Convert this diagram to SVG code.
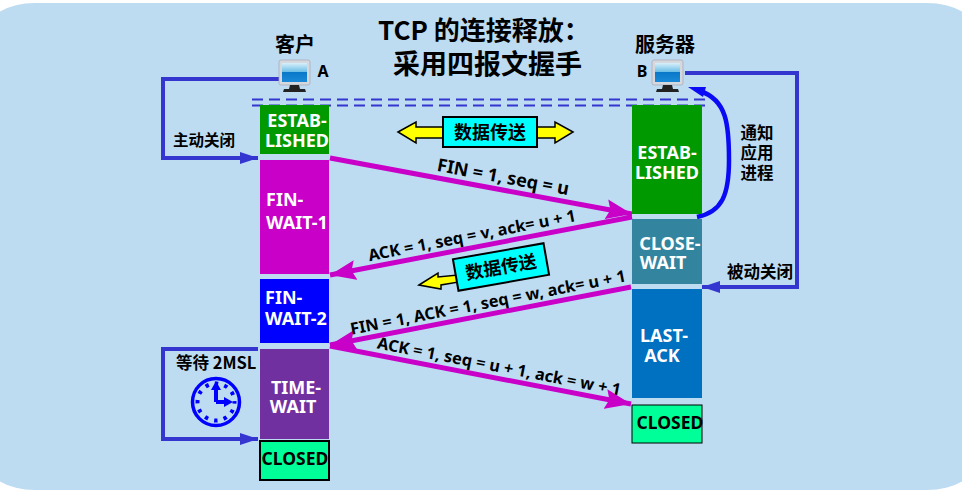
<svg xmlns="http://www.w3.org/2000/svg" width="962" height="492" viewBox="0 0 962 492">
<style>
text{font-family:"Noto Sans","Noto Sans CJK SC",sans-serif;font-weight:700;fill:#000}
.cjk{font-family:"Noto Sans CJK SC",sans-serif;font-weight:700}
.w{fill:#fff;font-size:18px;text-anchor:middle}
.lab{font-size:16.300px;text-anchor:middle}
.mag{stroke:#c800c8;stroke-width:5;fill:none}
.blue{stroke:#3535d0;stroke-width:4;fill:none}
.dash{stroke:#3535d0;stroke-width:2.2;stroke-dasharray:11 6;fill:none}
.ar{fill:#ff0;stroke:#000;stroke-width:1.500}
</style>
<defs>
<linearGradient id="scr" x1="0" y1="0" x2="0" y2="1"><stop offset="0" stop-color="#d8f0fa"/><stop offset=".45" stop-color="#70c0e8"/><stop offset=".5" stop-color="#0a78c8"/><stop offset="1" stop-color="#1a8ad8"/></linearGradient>
<marker id="mh" markerUnits="userSpaceOnUse" markerWidth="26" markerHeight="20" refX="26" refY="10" orient="auto"><path d="M0 0L26 10L0 20L4 10Z" fill="#c800c8"/></marker>
<marker id="bh" markerUnits="userSpaceOnUse" markerWidth="18" markerHeight="12" refX="18" refY="6" orient="auto"><path d="M0 0L18 6L0 12Z" fill="#3535d0"/></marker>
<g id="pc"><rect x="0" y="0" width="31" height="25" rx="2" fill="#d5d8dc" stroke="#aab" stroke-width=".8"/><rect x="3" y="3" width="25" height="19" fill="url(#scr)"/><path d="M11 25h9l1 4h5l1 3H4l1-3h5z" fill="#222"/></g>
</defs>
<rect width="962" height="492" fill="#fff"/>
<rect x="-15" y="3" width="992" height="487" rx="50" ry="30" fill="#bddcf2"/>
<g id="title"><text class="cjk" x="378" y="40" font-size="26">TCP 的连接释放：</text><text class="cjk" x="393" y="74" font-size="27">采用四报文握手</text></g>
<g id="connectors">
<path class="dash" d="M252 99.500H708M252 105.500H708"/>
<path class="blue" d="M279 79H163V158H258" marker-end="url(#bh)"/>
<path class="blue" d="M685 73H797V287H702" marker-end="url(#bh)"/>
<path d="M697 217C722 212 729 195 729 160C729 125 727 100 700 91" fill="none" stroke="#0a0af5" stroke-width="4.500"/>
<path d="M688 87L706 87L703 97Z" fill="#0a0af5"/>
<path class="blue" d="M258 349H163V439H258" marker-end="url(#bh)"/>
<path class="mag" d="M330 158L632 214" marker-end="url(#mh)"/>
<path class="mag" d="M632 217L330 275" marker-end="url(#mh)"/>
<path class="mag" d="M631 287L330 345" marker-end="url(#mh)"/>
<path class="mag" d="M330 346L631 404" marker-end="url(#mh)"/>
</g>
<g id="a-established"><rect x="260" y="105" width="69" height="49" fill="#009900"/><text class="w" x="297" y="127">ESTAB-</text><text class="w" x="297" y="147">LISHED</text></g>
<g id="a-finwait1"><rect x="260" y="160" width="69" height="114" fill="#c800c8"/><text class="w" x="266" y="206" style="text-anchor:start">FIN-</text><text class="w" x="266" y="229" style="text-anchor:start">WAIT-1</text></g>
<g id="a-finwait2"><rect x="260" y="279" width="69" height="64" fill="#0000ff"/><text class="w" x="265" y="304" style="text-anchor:start">FIN-</text><text class="w" x="265" y="325" style="text-anchor:start">WAIT-2</text></g>
<g id="a-timewait"><rect x="260" y="349" width="69" height="90" fill="#7030a0"/><text class="w" x="296" y="394">TIME-</text><text class="w" x="293" y="413">WAIT</text></g>
<g id="a-closed"><rect x="260" y="441" width="69" height="39" fill="#00ff99" stroke="#000" stroke-width="2"/><text x="295" y="465" font-size="17.500" text-anchor="middle">CLOSED</text></g>
<g id="b-established"><rect x="632" y="105" width="70" height="109" fill="#009900"/><text class="w" x="667" y="159">ESTAB-</text><text class="w" x="667" y="179">LISHED</text></g>
<g id="b-closewait"><rect x="632" y="219" width="70" height="65" fill="#33849f"/><text class="w" x="670" y="250">CLOSE-</text><text class="w" x="663" y="269">WAIT</text></g>
<g id="b-lastack"><rect x="632" y="289" width="70" height="109" fill="#0070c0"/><text class="w" x="664" y="342">LAST-</text><text class="w" x="662" y="362">ACK</text></g>
<g id="b-closed"><rect x="632" y="405" width="70" height="38" fill="#00ff99" stroke="#000" stroke-width="1"/><text x="670" y="429" font-size="17.500" text-anchor="middle">CLOSED</text></g>
<g id="client"><text class="cjk" x="295" y="52" font-size="20" text-anchor="middle">客户</text><use href="#pc" x="279" y="60"/><text x="323" y="77" font-size="16" text-anchor="middle">A</text></g>
<g id="server"><text class="cjk" x="665" y="52" font-size="20" text-anchor="middle">服务器</text><use href="#pc" x="652" y="60"/><text x="642" y="77" font-size="16" text-anchor="middle">B</text></g>
<g id="data1"><path class="ar" d="M398 132L416 122V127H444V138H416V143Z"/><path class="ar" d="M573 132L555 122V127H530V138H555V143Z"/><rect x="443" y="117" width="94" height="30" fill="#00ffff" stroke="#000" stroke-width="2"/><text class="cjk" x="490" y="139" font-size="18" text-anchor="middle">数据传送</text></g>
<g id="data2"><path class="ar" d="M419 285L438 273L438 277L458 275L459 282L441 285L441 289Z"/><g transform="rotate(-10 501 267)"><rect x="455" y="251" width="92" height="32" fill="#00ffff" stroke="#000" stroke-width="2"/><text class="cjk" x="501" y="273.500" font-size="18" text-anchor="middle">数据传送</text></g></g>
<g id="labels">
<text x="502" y="183" font-size="18" text-anchor="middle" transform="rotate(10.500 502 183)">FIN = 1, seq = u</text>
<text x="473" y="241" class="lab" transform="rotate(-11 473 241)">ACK = 1, seq = v, ack= u + 1</text>
<text x="489" y="308" class="lab" transform="rotate(-11 489 308)">FIN = 1, ACK = 1, seq = w, ack= u + 1</text>
<text x="498" y="372" class="lab" transform="rotate(11 498 372)">ACK = 1, seq = u + 1, ack = w + 1</text>
<text class="cjk" x="204" y="146" font-size="15.500" text-anchor="middle">主动关闭</text>
<text class="cjk" x="760" y="278" font-size="16.500" text-anchor="middle">被动关闭</text>
<text class="cjk" x="757" y="139" font-size="16.500" text-anchor="middle">通知</text>
<text class="cjk" x="757" y="159" font-size="16.500" text-anchor="middle">应用</text>
<text class="cjk" x="757" y="179" font-size="16.500" text-anchor="middle">进程</text>
<text class="cjk" x="176" y="369" font-size="16.500">等待 2MSL</text>
</g>
<g id="clock" fill="none" stroke="#0000ff"><circle cx="216" cy="402" r="23.500" stroke-width="3.500"/><path d="M216 402V388M216 402H228" stroke-width="4"/><path d="M216 381l-5 9h10zM233 402l-9-5v10z" fill="#0000ff" stroke="none"/><circle cx="216" cy="402" r="18.500" stroke-width="4" stroke-dasharray="3.500 6.186" stroke-dashoffset="1.750"/></g>
</svg>
